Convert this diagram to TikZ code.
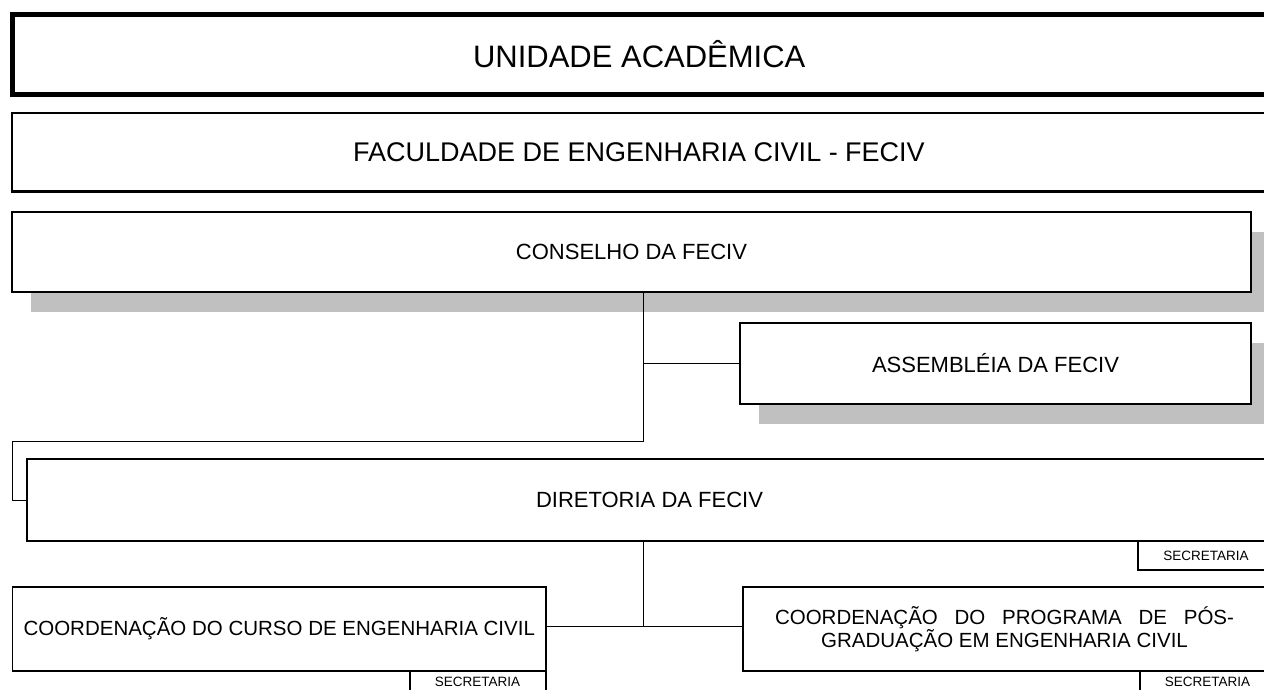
\documentclass[tikz,border=0pt]{standalone}
\usepackage{fontspec}
\setmainfont{Liberation Sans}
\usetikzlibrary{shadows}
\definecolor{shadowgray}{HTML}{C0C0C0}
\tikzset{font={\fontsize{22pt}{26pt}\selectfont}}

\begin{document}
\begin{tikzpicture}[x=1pt,y=-1pt,
    box/.style={draw,fill=white,rectangle,inner sep=0pt,line width=2.5pt},
    shadowbox/.style={box,drop shadow={shadow xshift=19pt,shadow yshift=-20pt,fill=shadowgray,opacity=1}},
    coordbox/.style={box,line width=1.5pt,minimum height=84pt,font={\fontsize{20.5pt}{23pt}\selectfont}},
    secbox/.style={box,line width=2pt,minimum width=136pt,minimum height=29pt,font={\fontsize{13.5pt}{15pt}\selectfont}},
    link/.style={draw,line width=0.9pt}]
  \useasboundingbox (0,0) rectangle (1264,689);

  \node[box,line width=5pt,minimum width=1253.5pt,minimum height=80pt,
        font={\fontsize{31pt}{36pt}\selectfont}] (unidade) at (639.25,54) {UNIDADE ACADÊMICA};
  \node[box,minimum width=1254pt,minimum height=78.5pt,
        font={\fontsize{27pt}{32pt}\selectfont}] (faculdade) at (639,152) {FACULDADE DE ENGENHARIA CIVIL - FECIV};
  \node[shadowbox,minimum width=1239pt,minimum height=80pt] (conselho) at (631.5,252) {CONSELHO DA FECIV};
  \node[shadowbox,minimum width=511pt,minimum height=81pt] (assembleia) at (995.5,363.5) {ASSEMBLÉIA DA FECIV};
  \node[box,minimum width=1245pt,minimum height=82pt] (diretoria) at (649.5,500) {DIRETORIA DA FECIV};
  \node[secbox] (secdiretoria) at (1206,555.5) {SECRETARIA};

  \node[coordbox,minimum width=533.5pt] (curso) at (279.25,629) {COORDENAÇÃO DO CURSO DE ENGENHARIA CIVIL};
  \node[coordbox,minimum width=523pt,align=center] (pos) at (1004.5,629)
       {\hbox to 459pt{COORDENAÇÃO\hfill DO\hfill PROGRAMA\hfill DE\hfill PÓS-}\\GRADUAÇÃO EM ENGENHARIA CIVIL};
  \node[secbox,minimum height=22pt] (seccurso) at (477.5,682) {SECRETARIA};
  \node[secbox,minimum height=22pt] (secpos) at (1207.5,682) {SECRETARIA};

  % ligacoes
  \coordinate (tee) at (643,441);
  \coordinate (bend) at (12,441);
  \coordinate (split) at (643,626);
  \draw[link] (conselho.south -| tee) -- (tee) -- (bend) |- (diretoria.west);
  \draw[link] (assembleia.west) -- (assembleia.west -| tee);
  \draw[link] (diretoria.south -| split) -- (split);
  \draw[link] (curso.east |- split) -- (pos.west |- split);
\end{tikzpicture}
\end{document}
